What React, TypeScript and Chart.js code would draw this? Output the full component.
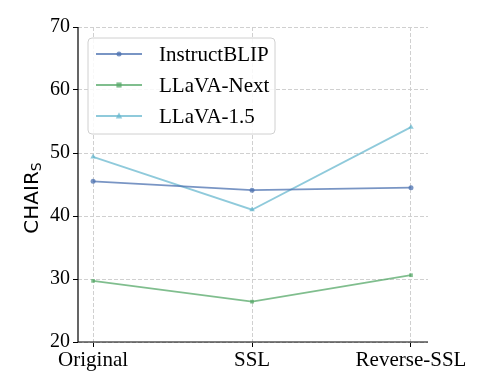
import React, { useEffect, useRef } from 'react';
import { Chart, registerables } from 'chart.js';
Chart.register(...registerables);

const categories = ['Original', 'SSL', 'Reverse-SSL'];
const seriesNames = ['InstructBLIP', 'LLaVA-Next', 'LLaVA-1.5'];
const instructBLIP = [45.5, 44.1, 44.5];
const llavaNext = [29.7, 26.4, 30.6];
const llava15 = [49.4, 41.0, 54.1];
const yTicks = [20, 30, 40, 50, 60, 70];

const seriesValues = [instructBLIP, llavaNext, llava15];
const seriesColors = ['rgba(76,114,176,0.75)', 'rgba(85,168,104,0.75)', 'rgba(100,181,205,0.72)'];
const seriesMarkers = ['circle', 'rect', 'triangle'];
const markerRadius = [2.5, 2.6, 3.2];

const SERIF = "'Liberation Serif', 'Times New Roman', serif";

const legendPlugin = {
  id: 'customLegend',
  afterDraw(chart: any) {
    const ctx = chart.ctx;
    const x0 = 88, y0 = 38, w = 187, h = 96, r = 4;
    ctx.save();
    ctx.beginPath();
    ctx.moveTo(x0 + r, y0);
    ctx.arcTo(x0 + w, y0, x0 + w, y0 + h, r);
    ctx.arcTo(x0 + w, y0 + h, x0, y0 + h, r);
    ctx.arcTo(x0, y0 + h, x0, y0, r);
    ctx.arcTo(x0, y0, x0 + w, y0, r);
    ctx.closePath();
    ctx.fillStyle = 'rgba(255,255,255,0.85)';
    ctx.fill();
    ctx.strokeStyle = '#d0d0d0';
    ctx.lineWidth = 1;
    ctx.stroke();
    const rows = [54, 85, 116];
    chart.data.datasets.forEach((ds: any, i: number) => {
      const y = rows[i];
      ctx.strokeStyle = ds.borderColor;
      ctx.lineWidth = ds.borderWidth;
      ctx.setLineDash([]);
      ctx.beginPath();
      ctx.moveTo(96, y);
      ctx.lineTo(142, y);
      ctx.stroke();
      ctx.fillStyle = ds.borderColor;
      const rad = ds.pointRadius;
      ctx.beginPath();
      if (ds.pointStyle === 'circle') {
        ctx.arc(119, y, rad, 0, Math.PI * 2);
      } else if (ds.pointStyle === 'rect') {
        ctx.rect(119 - rad, y - rad, rad * 2, rad * 2);
      } else {
        ctx.moveTo(119, y - rad * 1.2);
        ctx.lineTo(119 + rad, y + rad * 0.8);
        ctx.lineTo(119 - rad, y + rad * 0.8);
        ctx.closePath();
      }
      ctx.fill();
      ctx.fillStyle = '#000';
      ctx.font = `21px ${SERIF}`;
      ctx.textBaseline = 'middle';
      ctx.textAlign = 'left';
      ctx.fillText(ds.label, 159, y + 1);
    });
    ctx.restore();
  },
};

const axesPlugin = {
  id: 'axesLines',
  afterDatasetsDraw(chart: any) {
    const ctx = chart.ctx;
    const a = chart.chartArea;
    ctx.save();
    ctx.setLineDash([]);
    ctx.strokeStyle = '#000';
    ctx.lineWidth = 1.2;
    ctx.beginPath();
    ctx.moveTo(a.left, a.top);
    ctx.lineTo(a.left, a.bottom);
    ctx.lineTo(a.right, a.bottom);
    ctx.stroke();
    ctx.restore();
  },
};

const yTitlePlugin = {
  id: 'yTitle',
  afterDraw(chart: any) {
    const ctx = chart.ctx;
    ctx.save();
    ctx.translate(38, 198);
    ctx.rotate(-Math.PI / 2);
    ctx.fillStyle = '#000';
    ctx.textBaseline = 'alphabetic';
    ctx.font = "20px 'DejaVu Sans', sans-serif";
    const main = 'CHAIR';
    const sub = 'S';
    const mw = ctx.measureText(main).width;
    ctx.font = "14px 'DejaVu Sans', sans-serif";
    const sw = ctx.measureText(sub).width;
    const total = mw + sw;
    ctx.font = "20px 'DejaVu Sans', sans-serif";
    ctx.textAlign = 'left';
    ctx.fillText(main, -total / 2, 0);
    ctx.font = "14px 'DejaVu Sans', sans-serif";
    ctx.fillText(sub, -total / 2 + mw, 3);
    ctx.restore();
  },
};

const gridOpts = {
  color: '#d0d0d0',
  lineWidth: 1,
  drawTicks: true,
  tickLength: 5,
  tickColor: '#000',
  tickWidth: 1,
  tickBorderDash: [],
} as any;

export default function App() {
  const ref = useRef<HTMLCanvasElement>(null);
  useEffect(() => {
    if (!ref.current) return;
    const chart = new Chart(ref.current, {
      type: 'line',
      data: {
        datasets: seriesNames.map((name, i) => ({
          label: name,
          data: seriesValues[i].map((v, j) => ({ x: j, y: v })),
          borderColor: seriesColors[i],
          backgroundColor: seriesColors[i],
          pointBackgroundColor: seriesColors[i],
          pointBorderWidth: 0,
          borderWidth: 1.8,
          pointStyle: seriesMarkers[i] as any,
          pointRadius: markerRadius[i],
          tension: 0,
        })),
      },
      options: {
        animation: false,
        responsive: false,
        events: [],
        layout: { padding: { left: 0, top: 27, right: 60, bottom: 0 } },
        plugins: { legend: { display: false }, tooltip: { enabled: false } },
        scales: {
          x: {
            type: 'linear',
            min: -0.095,
            max: 2.107,
            afterBuildTicks: (s: any) => {
              s.ticks = categories.map((_, i) => ({ value: i }));
            },
            afterFit: (s: any) => {
              s.height = 49;
            },
            ticks: {
              callback: (v: any) => categories[v as number],
              color: '#000',
              font: { family: SERIF, size: 21 },
              padding: 1,
              maxRotation: 0,
              autoSkip: false,
            },
            grid: gridOpts,
            border: { display: false, dash: [4, 2] },
          },
          y: {
            min: 20,
            max: 70,
            afterBuildTicks: (s: any) => {
              s.ticks = yTicks.map((v) => ({ value: v }));
            },
            afterFit: (s: any) => {
              s.width = 78;
            },
            ticks: {
              color: '#000',
              font: { family: SERIF, size: 20 },
              padding: 3,
            },
            grid: gridOpts,
            border: { display: false, dash: [4, 2] },
          },
        },
      },
      plugins: [axesPlugin, legendPlugin, yTitlePlugin],
    });
    return () => chart.destroy();
  }, []);
  return (
    <div style={{ position: 'fixed', left: 0, top: 0, width: 488, height: 391, background: '#fff' }}>
      <canvas ref={ref} width={488} height={391} />
    </div>
  );
}
